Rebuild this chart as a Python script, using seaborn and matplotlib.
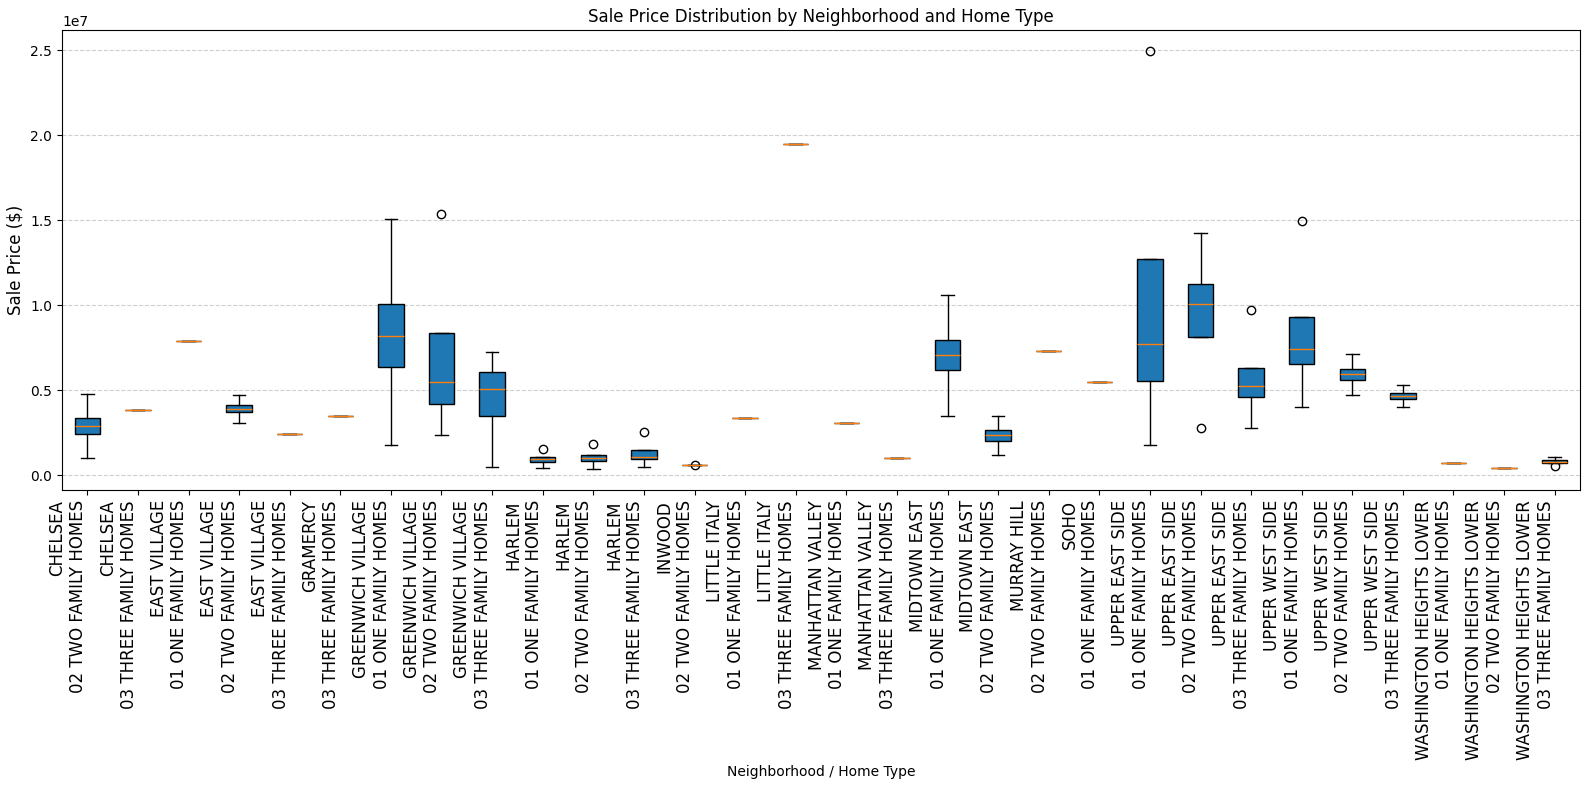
import matplotlib
matplotlib.use("Agg")
import matplotlib.pyplot as plt
import seaborn as sns

neighborhoods = ["CHELSEA", "CHELSEA", "EAST VILLAGE", "EAST VILLAGE", "EAST VILLAGE",
                 "GRAMERCY", "GREENWICH VILLAGE", "GREENWICH VILLAGE", "GREENWICH VILLAGE",
                 "HARLEM", "HARLEM", "HARLEM", "INWOOD", "LITTLE ITALY", "LITTLE ITALY",
                 "MANHATTAN VALLEY", "MANHATTAN VALLEY", "MIDTOWN EAST", "MIDTOWN EAST",
                 "MURRAY HILL", "SOHO", "UPPER EAST SIDE", "UPPER EAST SIDE", "UPPER EAST SIDE",
                 "UPPER WEST SIDE", "UPPER WEST SIDE", "UPPER WEST SIDE",
                 "WASHINGTON HEIGHTS LOWER", "WASHINGTON HEIGHTS LOWER", "WASHINGTON HEIGHTS LOWER"]
home_types = ["02 TWO FAMILY HOMES", "03 THREE FAMILY HOMES", "01 ONE FAMILY HOMES",
              "02 TWO FAMILY HOMES", "03 THREE FAMILY HOMES", "03 THREE FAMILY HOMES",
              "01 ONE FAMILY HOMES", "02 TWO FAMILY HOMES", "03 THREE FAMILY HOMES",
              "01 ONE FAMILY HOMES", "02 TWO FAMILY HOMES", "03 THREE FAMILY HOMES",
              "02 TWO FAMILY HOMES", "01 ONE FAMILY HOMES", "03 THREE FAMILY HOMES",
              "01 ONE FAMILY HOMES", "03 THREE FAMILY HOMES", "01 ONE FAMILY HOMES",
              "02 TWO FAMILY HOMES", "02 TWO FAMILY HOMES", "01 ONE FAMILY HOMES",
              "01 ONE FAMILY HOMES", "02 TWO FAMILY HOMES", "03 THREE FAMILY HOMES",
              "01 ONE FAMILY HOMES", "02 TWO FAMILY HOMES", "03 THREE FAMILY HOMES",
              "01 ONE FAMILY HOMES", "02 TWO FAMILY HOMES", "03 THREE FAMILY HOMES"]

# box statistics, in millions of dollars
whisker_low = [1.0, 3.82, 7.88, 3.06, 2.41, 3.47, 1.76, 2.35, 0.47, 0.43, 0.35, 0.51, 0.63,
               3.35, 19.47, 3.06, 1.0, 3.49, 1.18, 7.29, 5.47, 1.76, 8.12, 2.76, 4.0, 4.71,
               4.0, 0.71, 0.41, 0.71]
q1 = [2.41, 3.82, 7.88, 3.71, 2.41, 3.47, 6.35, 4.21, 3.47, 0.78, 0.84, 0.94, 0.63,
      3.35, 19.47, 3.06, 1.0, 6.18, 2.04, 7.29, 5.47, 5.53, 8.12, 4.59, 6.53, 5.59,
      4.47, 0.71, 0.41, 0.71]
median = [2.88, 3.82, 7.88, 3.88, 2.41, 3.47, 8.18, 5.47, 5.06, 0.94, 1.04, 1.08, 0.63,
          3.35, 19.47, 3.06, 1.0, 7.06, 2.35, 7.29, 5.47, 7.71, 10.06, 5.24, 7.41, 5.94,
          4.66, 0.71, 0.41, 0.80]
q3 = [3.37, 3.82, 7.88, 4.12, 2.41, 3.47, 10.1, 8.35, 6.06, 1.09, 1.21, 1.49, 0.63,
      3.35, 19.47, 3.06, 1.0, 7.96, 2.65, 7.29, 5.47, 12.7, 11.27, 6.33, 9.29, 6.24,
      4.82, 0.71, 0.41, 0.90]
whisker_high = [4.76, 3.82, 7.88, 4.71, 2.41, 3.47, 15.06, 8.35, 7.24, 1.09, 1.21, 1.49, 0.63,
                3.35, 19.47, 3.06, 1.0, 10.6, 3.49, 7.29, 5.47, 12.7, 14.25, 6.33, 9.29, 7.12,
                5.29, 0.71, 0.41, 1.09]
outliers = [[], [], [], [], [], [], [], [15.37], [], [1.53], [1.82], [2.56], [0.58],
            [], [], [], [], [], [], [], [], [24.94], [2.76], [9.7], [14.94], [], [],
            [], [], [0.55]]

labels = [f"{n}\n{h}" for n, h in zip(neighborhoods, home_types)]
scale = 1e6
stats = []
for i, lab in enumerate(labels):
    stats.append(dict(label=lab,
                      whislo=whisker_low[i] * scale, q1=q1[i] * scale,
                      med=median[i] * scale, q3=q3[i] * scale,
                      whishi=whisker_high[i] * scale,
                      fliers=[v * scale for v in outliers[i]]))

palette = sns.color_palette("tab10")

fig = plt.figure(figsize=(15.89, 7.90), dpi=100)
ax = fig.add_axes([62 / 1589, 1 - 490.3 / 790, (1580 - 62) / 1589, (490.3 - 30.3) / 790])
bp = ax.bxp(stats, patch_artist=True, widths=0.5,
            boxprops=dict(facecolor=palette[0], edgecolor="black"),
            medianprops=dict(color=palette[1]))
ax.set_title("Sale Price Distribution by Neighborhood and Home Type", fontsize=12)
ax.set_xlabel("Neighborhood / Home Type", fontsize=10)
ax.set_ylabel("Sale Price ($)", fontsize=12)
ax.grid(axis="y", linestyle="--", alpha=0.6)
ax.set_axisbelow(True)
plt.setp(ax.get_xticklabels(), rotation=90, ha="right", fontsize=12)
fig.savefig("out.png", dpi=100)
